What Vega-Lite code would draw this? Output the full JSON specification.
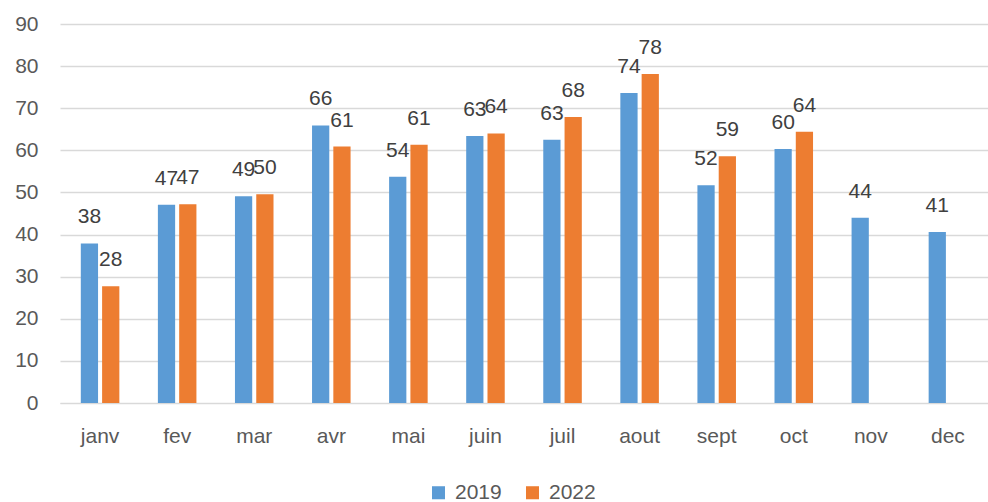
{
  "$schema": "https://vega.github.io/schema/vega-lite/v6.json",
  "width": 928,
  "height": 379,
  "autosize": {"type": "none"},
  "padding": {"left": 60, "top": 24, "right": 0, "bottom": 99},
  "background": "#ffffff",
  "config": {
    "view": {"stroke": null},
    "font": "Liberation Sans",
    "axis": {"labelFont": "Liberation Sans", "labelColor": "#595959", "labelFontSize": 21},
    "legend": {"labelFont": "Liberation Sans", "labelColor": "#595959", "labelFontSize": 21}
  },
  "data": {
    "values": [
      {"mois": "janv", "annee": "2019", "valeur": 37.9},
      {"mois": "janv", "annee": "2022", "valeur": 27.7},
      {"mois": "fev", "annee": "2019", "valeur": 47.1},
      {"mois": "fev", "annee": "2022", "valeur": 47.2},
      {"mois": "mar", "annee": "2019", "valeur": 49.1},
      {"mois": "mar", "annee": "2022", "valeur": 49.6},
      {"mois": "avr", "annee": "2019", "valeur": 65.9},
      {"mois": "avr", "annee": "2022", "valeur": 60.9},
      {"mois": "mai", "annee": "2019", "valeur": 53.7},
      {"mois": "mai", "annee": "2022", "valeur": 61.3},
      {"mois": "juin", "annee": "2019", "valeur": 63.4},
      {"mois": "juin", "annee": "2022", "valeur": 64.0},
      {"mois": "juil", "annee": "2019", "valeur": 62.5},
      {"mois": "juil", "annee": "2022", "valeur": 67.9},
      {"mois": "aout", "annee": "2019", "valeur": 73.6},
      {"mois": "aout", "annee": "2022", "valeur": 78.1},
      {"mois": "sept", "annee": "2019", "valeur": 51.7},
      {"mois": "sept", "annee": "2022", "valeur": 58.6},
      {"mois": "oct", "annee": "2019", "valeur": 60.3},
      {"mois": "oct", "annee": "2022", "valeur": 64.4},
      {"mois": "nov", "annee": "2019", "valeur": 44.0},
      {"mois": "dec", "annee": "2019", "valeur": 40.6}
    ]
  },
  "encoding": {
    "x": {
      "field": "mois", "type": "nominal",
      "sort": ["janv", "fev", "mar", "avr", "mai", "juin", "juil", "aout", "sept", "oct", "nov", "dec"],
      "scale": {"paddingInner": 0.5, "paddingOuter": 0.27},
      "axis": {"title": null, "labelAngle": 0, "ticks": false, "domain": true, "domainColor": "#d9d9d9", "labelPadding": 22}
    },
    "xOffset": {"field": "annee", "type": "nominal", "scale": {"paddingInner": 0.19, "paddingOuter": 0}},
    "y": {
      "field": "valeur", "type": "quantitative",
      "scale": {"domain": [0, 90], "nice": false},
      "axis": {"title": null, "values": [0, 10, 20, 30, 40, 50, 60, 70, 80, 90], "ticks": false, "domain": false, "gridColor": "#d9d9d9", "gridWidth": 1.5, "labelPadding": 22}
    }
  },
  "layer": [
    {
      "mark": {"type": "bar"},
      "encoding": {
        "color": {
          "field": "annee", "type": "nominal",
          "scale": {"domain": ["2019", "2022"], "range": ["#5B9BD5", "#ED7D31"]},
          "legend": {"title": null, "orient": "none", "legendX": 368, "legendY": 458, "direction": "horizontal", "symbolType": "square", "symbolSize": 170, "symbolStrokeWidth": 0, "columnPadding": 20, "labelOffset": 6}
        }
      }
    },
    {
      "mark": {"type": "text", "baseline": "alphabetic", "dy": -20, "fontSize": 21, "color": "#404040"},
      "encoding": {
        "text": {"field": "valeur", "type": "quantitative", "format": ".0f"}
      }
    }
  ]
}
